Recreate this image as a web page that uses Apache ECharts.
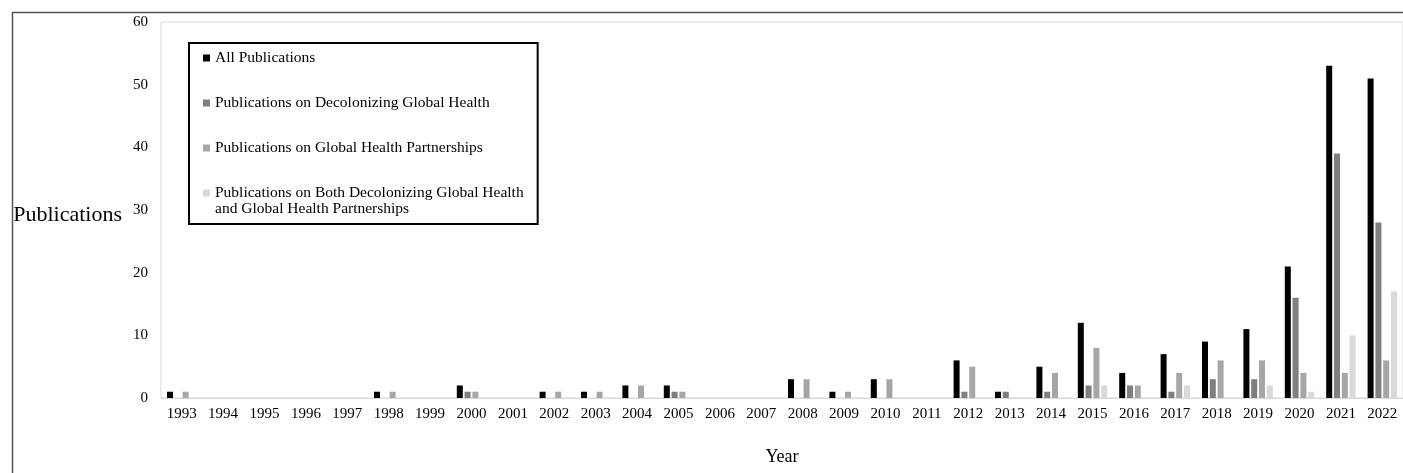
<!DOCTYPE html>
<html>
<head>
<meta charset="utf-8">
<script src="https://cdn.jsdelivr.net/npm/echarts@6/dist/echarts.min.js"></script>
<style>
html,body{margin:0;padding:0;background:#fff;}
#c{width:1403px;height:473px;}
</style>
</head>
<body>
<div id="c"></div>
<script>
const years = ['1993','1994','1995','1996','1997','1998','1999','2000','2001','2002','2003','2004','2005','2006','2007','2008','2009','2010','2011','2012','2013','2014','2015','2016','2017','2018','2019','2020','2021','2022'];
const allPubs      = [1,0,0,0,0,1,0,2,0,1,1,2,2,0,0,3,1,3,0,6,1,5,12,4,7,9,11,21,53,51];
const decolonizing = [0,0,0,0,0,0,0,1,0,0,0,0,1,0,0,0,0,0,0,1,1,1,2,2,1,3,3,16,39,28];
const partnerships = [1,0,0,0,0,1,0,1,0,1,1,2,1,0,0,3,1,3,0,5,0,4,8,2,4,6,6,4,4,6];
const both         = [0,0,0,0,0,0,0,0,0,0,0,0,0,0,0,0,0,0,0,0,0,0,2,0,2,0,2,1,10,17];
const yTicks = [0,10,20,30,40,50,60];
const seriesNames = [
  'All Publications',
  'Publications on Decolonizing Global Health',
  'Publications on Global Health Partnerships',
  'Publications on Both Decolonizing Global Health'
];
const legendLine2 = 'and Global Health Partnerships';
const colors = ['#000000','#7f7f7f','#a6a6a6','#d9d9d9'];
const FONT = "'Liberation Serif','Times New Roman',serif";

const chart = echarts.init(document.getElementById('c'));
const dataSets = [allPubs, decolonizing, partnerships, both];
chart.setOption({
  animation: false,
  textStyle: {fontFamily: FONT, color: '#000'},
  grid: {left: 161, top: 22, width: 1245, bottom: 75, show: true, borderColor: '#d9d9d9', borderWidth: 1, containLabel: false},
  graphic: [
    {type: 'rect', left: 10, top: 10, shape: {x: 0, y: 0, width: 1500, height: 600}, style: {fill: 'none', stroke: '#555', lineWidth: 1.5}, silent: true, z: 100},
    {type: 'text', left: 215, top: 201, style: {text: legendLine2, font: "15.5px " + FONT, fill: '#000'}, z: 100}
  ],
  legend: {
    orient: 'vertical', left: 189, top: 43,
    data: seriesNames,
    icon: 'rect', itemWidth: 7, itemHeight: 7, itemGap: 29,
    borderColor: '#000', borderWidth: 2,
    padding: [7, 14, 23, 14],
    textStyle: {fontFamily: FONT, fontSize: 15.5, color: '#000', lineHeight: 16},
    selectedMode: false
  },
  xAxis: {
    type: 'category', data: years,
    name: 'Year', nameLocation: 'middle', nameGap: 50,
    nameTextStyle: {fontFamily: FONT, fontSize: 18, color: '#000'},
    axisLine: {lineStyle: {color: '#d9d9d9', width: 1}},
    axisTick: {show: false},
    axisLabel: {interval: 0, fontFamily: FONT, fontSize: 15, color: '#000', margin: 9}
  },
  yAxis: {
    type: 'value', min: yTicks[0], max: yTicks[yTicks.length-1], interval: 10,
    name: 'Publications', nameLocation: 'middle', nameRotate: 0, nameGap: 39,
    nameTextStyle: {fontFamily: FONT, fontSize: 22, color: '#000', verticalAlign: 'top', lineHeight: 10},
    axisLine: {show: false}, axisTick: {show: false},
    splitLine: {show: false},
    axisLabel: {fontFamily: FONT, fontSize: 15, color: '#000', margin: 13}
  },
  series: dataSets.map((d, i) => ({
    name: seriesNames[i], type: 'bar', data: d,
    barWidth: 6, barGap: '30%',
    itemStyle: {color: colors[i]}
  }))
});
</script>
</body>
</html>
